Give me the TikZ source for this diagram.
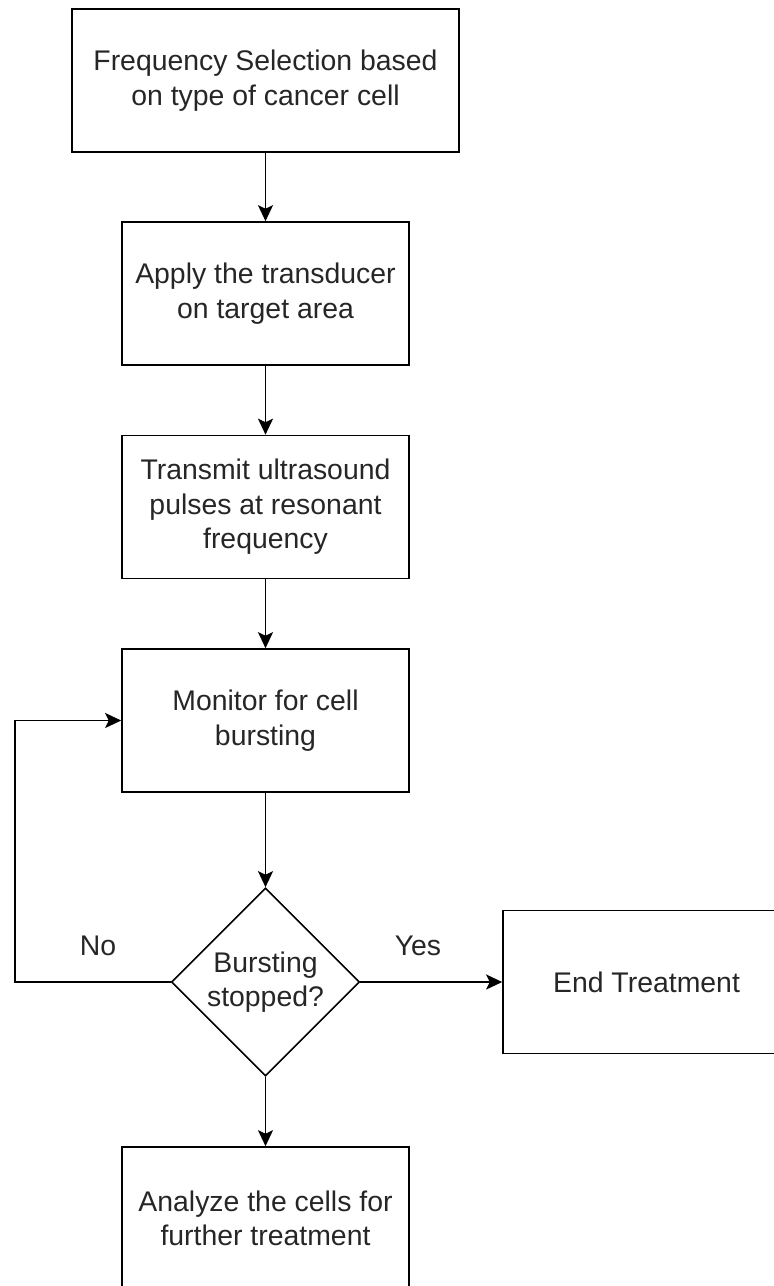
\documentclass[tikz,border=0pt]{standalone}
\usepackage{fontspec}
\setmainfont{Liberation Sans}
\usetikzlibrary{shapes.geometric}
\usetikzlibrary{arrows.meta}

\begin{document}
\begin{tikzpicture}[x=1pt, y=-1pt, line width=1.6pt,
    every text node part/.style={align=center},
    every node/.style={font=\fontsize{28.4}{34.5}\selectfont, text=black!85},
    stepbox/.style={draw, rectangle, minimum width=287pt, minimum height=143pt, inner sep=0pt},
    decision/.style={draw, diamond, minimum width=188pt, minimum height=188pt, inner sep=0pt},
    arr/.style={-{Stealth[width=15pt, length=16pt, inset=3.5pt]}}]
    \useasboundingbox (0, 0) rectangle (774, 1286);
    \node (a) [stepbox, minimum width=387pt] at (265.5, 80.5) {Frequency Selection based \\ on type of cancer cell};
    \node (b) [stepbox] at (265.5, 293.5) {Apply the transducer \\ on target area};
    \node (c) [stepbox] at (265.5, 507) {Transmit ultrasound \\ pulses at resonant \\ frequency};
    \node (d) [stepbox] at (265.5, 720.5) {Monitor for cell \\ bursting};
    \node (e) [decision] at (265.5, 982) {Bursting \\ stopped?};
    \node (f) [stepbox] at (646.5, 982) {End Treatment};
    \node (g) [stepbox] at (265.5, 1218.5) {Analyze the cells for \\ further treatment};
    \node (no) at (98, 946) {No};
    \node (yes) at (418, 946) {Yes};
    \coordinate (bend) at (15, 720.5);
    \draw[arr] (a) -- (b);
    \draw[arr] (b) -- (c);
    \draw[arr] (c) -- (d);
    \draw[arr] (d) -- (e);
    \draw[arr] (e) -- (f);
    \draw[arr] (e) -- (g);
    \draw[arr] (e.west) -| (bend) -- (d.west);
  \end{tikzpicture}
\end{document}
